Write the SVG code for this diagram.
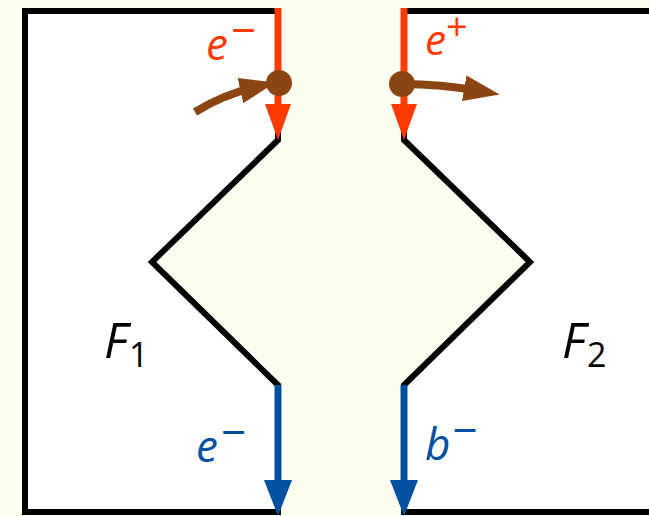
<svg xmlns="http://www.w3.org/2000/svg" width="649" height="516" viewBox="0 0 649 516">
<style>
.frame{fill:#fff;stroke:#000;stroke-width:6;stroke-linejoin:miter}
.red{stroke:#ff3a00;stroke-width:7;fill:none}
.blue{stroke:#0050a0;stroke-width:7;fill:none}
.brown{stroke:#8b4513;stroke-width:8;fill:none}
.lbl{font-family:"Open Sans","Noto Sans",sans-serif;font-style:italic}
</style>
<defs>
<marker id="ahRed" viewBox="0 0 36 26" refX="16" refY="13" markerWidth="36" markerHeight="26" markerUnits="userSpaceOnUse" orient="auto"><path d="M0,0 L36,13 L0,26 Z" fill="#ff3a00"/></marker>
<marker id="ahBlue" viewBox="0 0 36 28" refX="16" refY="14" markerWidth="36" markerHeight="28" markerUnits="userSpaceOnUse" orient="auto"><path d="M0,0 L36,14 L0,28 Z" fill="#0050a0"/></marker>
<marker id="ahBrown" viewBox="0 0 36 26" refX="16" refY="13" markerWidth="36" markerHeight="26" markerUnits="userSpaceOnUse" orient="auto"><path d="M0,0 L36,13 L0,26 Z" fill="#8b4513"/></marker>
</defs>
<rect width="649" height="516" fill="#fefef0"/>
<g id="F1">
<path class="frame" d="M278,11 L25,11 L25,512 L278,512 L278,385 L152,262 L278,140 Z"/>
<text class="lbl" x="104" y="358" font-size="49" fill="#000">F<tspan x="129" y="367" font-size="34" font-style="normal">1</tspan></text>
</g>
<g id="F2">
<path class="frame" d="M404,11 L655,11 L655,512 L404,512 L404,385 L530,262 L404,140 Z"/>
<text class="lbl" x="562" y="358" font-size="49" fill="#000">F<tspan x="587" y="367" font-size="34" font-style="normal">2</tspan></text>
</g>
<g id="connectors">
<path class="red" d="M278,8 L278,120" marker-end="url(#ahRed)"/>
<path class="red" d="M404,8 L404,120" marker-end="url(#ahRed)"/>
<path class="blue" d="M278,385 L278,496" marker-end="url(#ahBlue)"/>
<path class="blue" d="M404,385 L404,496" marker-end="url(#ahBlue)"/>
<path class="brown" d="M195,112 Q225,94 256,87" marker-end="url(#ahBrown)"/>
<path class="brown" d="M402,84 Q440,84 480,91" marker-end="url(#ahBrown)"/>
<circle cx="279" cy="83" r="13" fill="#8b4513"/>
<circle cx="402" cy="84" r="13" fill="#8b4513"/>
</g>
<g id="labels">
<text class="lbl" x="206" y="60" font-size="44" fill="#ff3a00">e<tspan dx="3" dy="-14" font-style="normal">−</tspan></text>
<text class="lbl" x="425" y="55" font-size="42" fill="#ff3a00">e<tspan dy="-15" font-size="38" font-style="normal">+</tspan></text>
<text class="lbl" x="196" y="462" font-size="44" fill="#0050a0">e<tspan dx="3" dy="-14" font-style="normal">−</tspan></text>
<text class="lbl" x="425" y="460" font-size="44" fill="#0050a0">b<tspan dx="2" dy="-14" font-style="normal">−</tspan></text>
</g>
</svg>
